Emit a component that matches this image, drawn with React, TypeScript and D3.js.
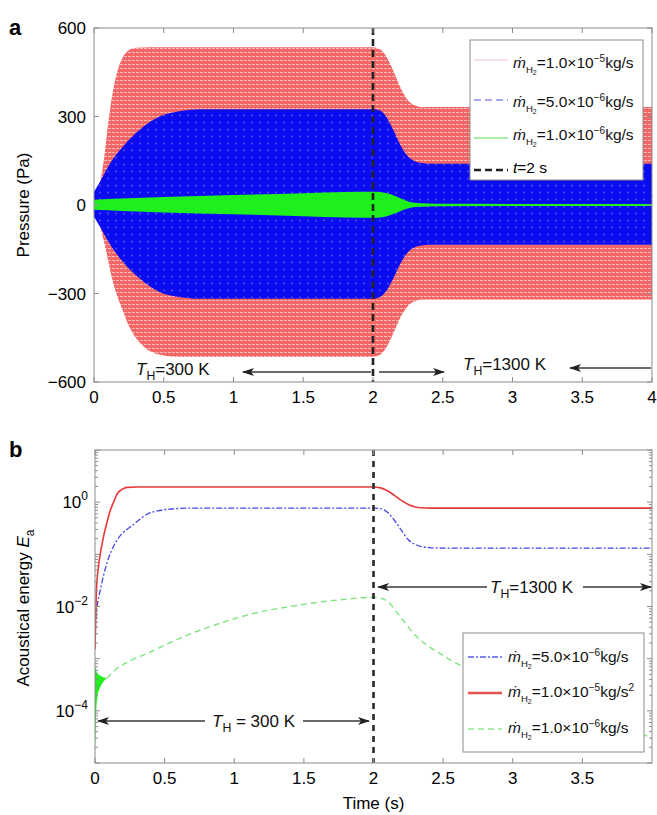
import React from 'react';
import * as d3 from 'd3';

// ---------- Panel a: pressure envelopes ----------
const pressureTicksX = [0, 0.5, 1, 1.5, 2, 2.5, 3, 3.5, 4];
const pressureTicksY = [-600, -300, 0, 300, 600];

const redT = [0, 0.02, 0.04, 0.07, 0.1, 0.13, 0.16, 0.2, 0.25, 0.3, 0.4, 0.5, 0.6, 2.0, 2.05, 2.1, 2.15, 2.2, 2.25, 2.3, 2.35, 4.0];
const redUpper = [30, 45, 70, 150, 270, 370, 440, 495, 525, 533, 535, 535, 535, 535, 528, 500, 450, 395, 355, 338, 332, 332];
const redLower = [-25, -40, -68, -120, -185, -250, -300, -350, -410, -450, -495, -510, -515, -515, -508, -480, -430, -378, -342, -326, -320, -320];

const blueT = [0, 0.05, 0.11, 0.22, 0.33, 0.47, 0.61, 0.76, 2.0, 2.05, 2.1, 2.15, 2.2, 2.25, 2.3, 2.35, 2.4, 4.0];
const blueUpper = [45, 85, 137, 205, 256, 300, 318, 325, 325, 320, 295, 250, 200, 165, 148, 142, 140, 140];
const blueLower = [-40, -80, -130, -200, -250, -295, -312, -318, -318, -312, -288, -245, -195, -160, -143, -137, -135, -135];

const greenT = [0, 0.2, 0.5, 1.0, 1.5, 1.8, 2.0, 2.05, 2.1, 2.15, 2.2, 2.25, 2.3, 2.4, 2.5, 4.0];
const greenUpper = [18, 22, 27, 34, 40, 44, 45, 44, 40, 32, 22, 13, 8, 5, 4, 3];
const greenLower = [-16, -20, -25, -31, -38, -42, -43, -42, -38, -30, -20, -12, -7, -5, -4, -3];

// ---------- Panel b: acoustical energy ----------
const energyTicksX = [0, 0.5, 1, 1.5, 2, 2.5, 3, 3.5];
const energyLabelExps = [0, -2, -4];
const energyDecades = [-5, -4, -3, -2, -1, 0, 1];

const eRedT = [0, 0.005, 0.01, 0.02, 0.04, 0.06, 0.085, 0.11, 0.13, 0.16, 0.2, 0.23, 0.3, 0.4, 2.0, 2.05, 2.1, 2.15, 2.2, 2.25, 2.3, 2.35, 2.4, 4.0];
const eRedE = [0.0015, 0.006, 0.02, 0.045, 0.11, 0.21, 0.4, 0.7, 0.95, 1.45, 1.8, 1.92, 1.95, 1.95, 1.95, 1.88, 1.65, 1.35, 1.08, 0.9, 0.81, 0.78, 0.77, 0.77];

const eBlueT = [0, 0.005, 0.01, 0.02, 0.04, 0.06, 0.085, 0.12, 0.16, 0.2, 0.25, 0.3, 0.37, 0.45, 0.55, 0.7, 2.0, 2.05, 2.1, 2.15, 2.2, 2.25, 2.3, 2.35, 2.4, 2.5, 4.0];
const eBlueE = [0.002, 0.005, 0.008, 0.012, 0.022, 0.038, 0.067, 0.12, 0.19, 0.26, 0.33, 0.42, 0.58, 0.68, 0.74, 0.77, 0.77, 0.75, 0.64, 0.45, 0.29, 0.19, 0.155, 0.14, 0.135, 0.132, 0.132];

const eGreenT = [0.085, 0.15, 0.25, 0.4, 0.55, 0.7, 0.9, 1.18, 1.4, 1.6, 1.8, 1.99, 2.05, 2.1, 2.2, 2.3, 2.4, 2.5, 2.6, 2.8, 3.0, 3.3, 3.6, 3.8, 4.0];
const eGreenE = [4.2e-4, 6.2e-4, 9e-4, 1.35e-3, 2.1e-3, 3.1e-3, 4.8e-3, 7.8e-3, 1.0e-2, 1.2e-2, 1.38e-2, 1.5e-2, 1.45e-2, 1.25e-2, 6e-3, 2.8e-3, 1.7e-3, 1.15e-3, 8e-4, 5e-4, 3e-4, 1.6e-4, 8e-5, 5e-5, 3e-5];

const eSpikeT = [0, 0.005, 0.01, 0.02, 0.04, 0.06, 0.085];
const eSpikeUpper = [7.4e-4, 6.5e-4, 5.8e-4, 5.2e-4, 4.7e-4, 4.4e-4, 4.2e-4];
const eSpikeLower = [1.5e-5, 5e-5, 1.1e-4, 2e-4, 2.9e-4, 3.6e-4, 4.2e-4];

const FONT = 'Liberation Sans, Arial, Helvetica, sans-serif';

function MdotLabel({ x, y, mant, exp, sq, fs }: any) {
  return (
    <text x={x} y={y} fontSize={fs} fontFamily={FONT} fill="#111">
      <tspan fontStyle="italic">ṁ</tspan>
      <tspan fontSize={fs * 0.62} dy={fs * 0.3}>H</tspan>
      <tspan fontSize={fs * 0.45} dy={fs * 0.12}>2</tspan>
      <tspan fontSize={fs} dy={-fs * 0.42}>{`=${mant}×10`}</tspan>
      <tspan fontSize={fs * 0.65} dy={-fs * 0.4}>{exp}</tspan>
      <tspan fontSize={fs} dy={fs * 0.4}>kg/s</tspan>
      {sq ? <tspan fontSize={fs * 0.65} dy={-fs * 0.4}>2</tspan> : null}
    </text>
  );
}

function THLabel({ x, y, val, fs }: any) {
  return (
    <text x={x} y={y} fontSize={fs} fontFamily={FONT} fill="#111">
      <tspan fontStyle="italic">T</tspan>
      <tspan fontSize={fs * 0.72} dy={fs * 0.28}>H</tspan>
      <tspan fontSize={fs} dy={-fs * 0.28}>{val}</tspan>
    </text>
  );
}

export default function App() {
  const xA = d3.scaleLinear().domain([0, 4]).range([94, 652]);
  const yA = d3.scaleLinear().domain([-600, 600]).range([382, 28]);
  const xB = d3.scaleLinear().domain([0, 4]).range([95, 652]);
  const yB = d3.scaleLog().domain([1e-5, 10]).range([763, 450]);

  const env = (T: number[], U: number[], L: number[]) => T.map((t, i) => ({ t, hi: U[i], lo: L[i] }));
  const areaA = d3.area<any>().x(d => xA(d.t)).y0(d => yA(d.lo)).y1(d => yA(d.hi)).curve(d3.curveMonotoneX);
  const areaB = d3.area<any>().x(d => xB(d.t)).y0(d => yB(d.lo)).y1(d => yB(d.hi)).curve(d3.curveMonotoneX);
  const lineB = d3.line<any>().x(d => xB(d.t)).y(d => yB(d.e)).curve(d3.curveMonotoneX);
  const ser = (T: number[], E: number[]) => T.map((t, i) => ({ t, e: E[i] }));

  const redPath = areaA(env(redT, redUpper, redLower));
  const bluePath = areaA(env(blueT, blueUpper, blueLower));
  const greenPath = areaA(env(greenT, greenUpper, greenLower));

  const aL = xA.range()[0], aR = xA.range()[1], aT = yA.range()[1], aB = yA.range()[0];
  const bL = xB.range()[0], bR = xB.range()[1], bT = yB.range()[1], bBt = yB.range()[0];

  const minorTicks: number[] = [];
  energyDecades.slice(0, -1).forEach(k => {
    for (let m = 2; m <= 9; m++) minorTicks.push(m * Math.pow(10, k));
  });

  const frame = '#8c8c8c';
  const arrowColor = '#3a3a3a';

  return (
    <div style={{ position: 'absolute', left: 0, top: 0 }}>
      <svg width={657} height={815} viewBox="0 0 657 815" style={{ display: 'block', background: '#fff' }}>
        <defs>
          <pattern id="redPat" width="4" height="4" patternUnits="userSpaceOnUse">
            <rect width="4" height="4" fill="#f26666" />
            <rect x="0" y="0" width="3" height="1" fill="#ffffff" opacity="0.55" />
          </pattern>
          <pattern id="bluePat" width="8" height="7" patternUnits="userSpaceOnUse">
            <rect width="8" height="7" fill="#0c0cf0" />
            <circle cx="4" cy="3.5" r="0.9" fill="#b0b0ff" opacity="0.45" />
          </pattern>
          <clipPath id="clipA"><rect x={aL} y={aT} width={aR - aL} height={aB - aT} /></clipPath>
          <clipPath id="clipB"><rect x={bL} y={bT} width={bR - bL} height={bBt - bT} /></clipPath>
          <marker id="arrowHead" viewBox="0 0 12 8" refX="11" refY="4" markerWidth="12" markerHeight="8" markerUnits="userSpaceOnUse" orient="auto-start-reverse">
            <path d="M0,0 L12,4 L0,8 L3,4 Z" fill="#222" />
          </marker>
        </defs>

        {/* ================= Panel a ================= */}
        <text x={9} y={35} fontSize={22} fontWeight="bold" fontFamily={FONT}>a</text>
        <g clipPath="url(#clipA)">
          <path d={redPath || ''} fill="url(#redPat)" />
          <path d={bluePath || ''} fill="url(#bluePat)" />
          <path d={greenPath || ''} fill="#1ef01e" />
          <line x1={xA(2)} x2={xA(2)} y1={aT} y2={aB} stroke="#222" strokeWidth={2.6} strokeDasharray="7,4" />
        </g>
        <rect x={aL} y={aT} width={aR - aL} height={aB - aT} fill="none" stroke={frame} strokeWidth={1} />
        {pressureTicksX.map(t => (
          <g key={'ax' + t}>
            <line x1={xA(t)} x2={xA(t)} y1={aB} y2={aB - 5} stroke={frame} />
            <line x1={xA(t)} x2={xA(t)} y1={aT} y2={aT + 5} stroke={frame} />
            <text x={xA(t)} y={aB + 21} fontSize={17} textAnchor="middle" fontFamily={FONT}>{String(t)}</text>
          </g>
        ))}
        {pressureTicksY.map(v => (
          <g key={'ay' + v}>
            <line x1={aL} x2={aL + 5} y1={yA(v)} y2={yA(v)} stroke={frame} />
            <line x1={aR} x2={aR - 5} y1={yA(v)} y2={yA(v)} stroke={frame} />
            <text x={86} y={yA(v) + 6} fontSize={17} textAnchor="end" fontFamily={FONT}>{v < 0 ? '−' + Math.abs(v) : String(v)}</text>
          </g>
        ))}
        <text transform={`translate(29,${(aT + aB) / 2}) rotate(-90)`} fontSize={17} textAnchor="middle" fontFamily={FONT}>Pressure (Pa)</text>

        {/* annotations a */}
        <THLabel x={136} y={375} val="=300 K" fs={17} />
        <line x1={371} y1={372} x2={243} y2={372} stroke={arrowColor} strokeWidth={1.3} markerEnd="url(#arrowHead)" />
        <line x1={379} y1={372} x2={444} y2={372} stroke={arrowColor} strokeWidth={1.3} markerEnd="url(#arrowHead)" />
        <THLabel x={463} y={370} val="=1300 K" fs={17} />
        <line x1={651} y1={368} x2={570} y2={368} stroke={arrowColor} strokeWidth={1.3} markerEnd="url(#arrowHead)" />

        {/* legend a */}
        <rect x={470} y={40} width={173} height={140} fill="#fff" stroke={frame} strokeWidth={1} />
        <line x1={474} x2={508} y1={60} y2={60} stroke="#f4c2c2" strokeWidth={1.2} />
        <MdotLabel x={513} y={68} mant="1.0" exp="−5" fs={15.5} />
        <line x1={474} x2={508} y1={100} y2={100} stroke="#8c8ce8" strokeWidth={1.6} strokeDasharray="7,4" />
        <MdotLabel x={513} y={107} mant="5.0" exp="−6" fs={15.5} />
        <line x1={474} x2={508} y1={138} y2={138} stroke="#55dd55" strokeWidth={1.2} />
        <MdotLabel x={513} y={140} mant="1.0" exp="−6" fs={15.5} />
        <line x1={474} x2={508} y1={170} y2={170} stroke="#222" strokeWidth={2.6} strokeDasharray="7,4" />
        <text x={513} y={173} fontSize={15.5} fontFamily={FONT}><tspan fontStyle="italic">t</tspan>=2 s</text>

        {/* ================= Panel b ================= */}
        <text x={9} y={457} fontSize={22} fontWeight="bold" fontFamily={FONT}>b</text>
        <g clipPath="url(#clipB)">
          <path d={areaB(env(eSpikeT, eSpikeUpper, eSpikeLower)) || ''} fill="#22ee22" />
          <path d={lineB(ser(eGreenT, eGreenE)) || ''} fill="none" stroke="#80e480" strokeWidth={1.4} strokeDasharray="6,4" />
          <path d={lineB(ser(eBlueT, eBlueE)) || ''} fill="none" stroke="#4646e6" strokeWidth={1.3} strokeDasharray="6,2,2,2" />
          <path d={lineB(ser(eRedT, eRedE)) || ''} fill="none" stroke="#e83a3a" strokeWidth={1.6} />
          <line x1={xB(2)} x2={xB(2)} y1={bT} y2={bBt} stroke="#2a2a2a" strokeWidth={2.6} strokeDasharray="6,5" />
        </g>
        <rect x={bL} y={bT} width={bR - bL} height={bBt - bT} fill="none" stroke={frame} strokeWidth={1} />
        {energyTicksX.map(t => (
          <g key={'bx' + t}>
            <line x1={xB(t)} x2={xB(t)} y1={bBt} y2={bBt - 5} stroke={frame} />
            <line x1={xB(t)} x2={xB(t)} y1={bT} y2={bT + 5} stroke={frame} />
            <text x={xB(t)} y={bBt + 21} fontSize={17} textAnchor="middle" fontFamily={FONT}>{String(t)}</text>
          </g>
        ))}
        {energyDecades.map(k => (
          <g key={'bd' + k}>
            <line x1={bL} x2={bL + 5} y1={yB(Math.pow(10, k))} y2={yB(Math.pow(10, k))} stroke={frame} />
            <line x1={bR} x2={bR - 5} y1={yB(Math.pow(10, k))} y2={yB(Math.pow(10, k))} stroke={frame} />
          </g>
        ))}
        {minorTicks.map((v, i) => (
          <g key={'bm' + i}>
            <line x1={bL} x2={bL + 3} y1={yB(v)} y2={yB(v)} stroke={frame} />
            <line x1={bR} x2={bR - 3} y1={yB(v)} y2={yB(v)} stroke={frame} />
          </g>
        ))}
        {energyLabelExps.map(k => (
          <text key={'bl' + k} x={88} y={yB(Math.pow(10, k)) + 6} fontSize={17} textAnchor="end" fontFamily={FONT}>
            10<tspan fontSize={12} dy={-8}>{k === 0 ? '0' : '−' + Math.abs(k)}</tspan>
          </text>
        ))}
        <text transform={`translate(29,608) rotate(-90)`} fontSize={17} textAnchor="middle" fontFamily={FONT}>
          Acoustical energy <tspan fontStyle="italic">E</tspan><tspan fontSize={12} dy={5}>a</tspan>
        </text>
        <text x={xB(2)} y={809} fontSize={17} textAnchor="middle" fontFamily={FONT}>Time (s)</text>

        {/* annotations b */}
        <line x1={205} y1={721} x2={98} y2={721} stroke={arrowColor} strokeWidth={1.3} markerEnd="url(#arrowHead)" />
        <THLabel x={212} y={727} val=" = 300 K" fs={17} />
        <line x1={303} y1={721} x2={369} y2={721} stroke={arrowColor} strokeWidth={1.3} markerEnd="url(#arrowHead)" />
        <line x1={487} y1={587} x2={378} y2={587} stroke={arrowColor} strokeWidth={1.3} markerEnd="url(#arrowHead)" />
        <THLabel x={490} y={593} val="=1300 K" fs={17} />
        <line x1={583} y1={587} x2={651} y2={587} stroke={arrowColor} strokeWidth={1.3} markerEnd="url(#arrowHead)" />

        {/* legend b */}
        <rect x={463} y={633} width={181} height={119} fill="#fff" stroke={frame} strokeWidth={1} />
        <line x1={468} x2={502} y1={657} y2={657} stroke="#5a5ae6" strokeWidth={1.4} strokeDasharray="6,2,2,2" />
        <MdotLabel x={508} y={662} mant="5.0" exp="−6" fs={15.5} />
        <line x1={468} x2={502} y1={693} y2={693} stroke="#e85050" strokeWidth={2.4} />
        <MdotLabel x={508} y={697} mant="1.0" exp="−5" sq fs={15.5} />
        <line x1={468} x2={502} y1={729} y2={729} stroke="#8ee88e" strokeWidth={1.6} strokeDasharray="6,4" />
        <MdotLabel x={508} y={733} mant="1.0" exp="−6" fs={15.5} />
      </svg>
    </div>
  );
}
